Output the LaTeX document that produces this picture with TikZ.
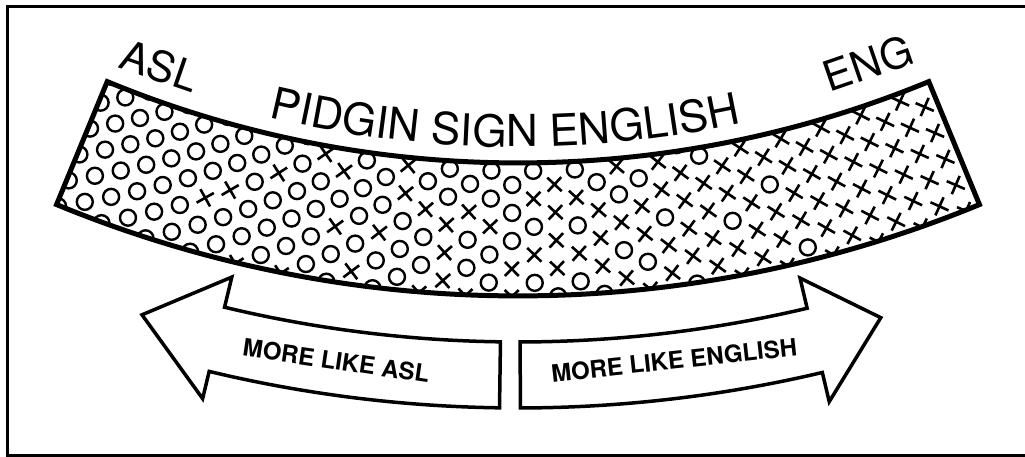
\documentclass[tikz,border=0pt]{standalone}
\usepackage{fontspec}
\setmainfont{TeX Gyre Heros}
\usetikzlibrary{decorations.text}
\newcommand{\bandfont}{\fontsize{44}{50}\selectfont}
\newcommand{\cornerfont}{\fontsize{42}{48}\selectfont}
\newcommand{\arrowfont}{\fontsize{24}{28}\selectfont\bfseries}

\begin{document}
\begin{tikzpicture}[x=1pt, y=1pt,
    omark/.style={line width=2.4pt},
    xmark/.style={line width=2.6pt},
    outline/.style={line width=5pt, line join=miter},
    arrowline/.style={line width=3.5pt, line join=miter}]
    \useasboundingbox (0,0) rectangle (1025,-457);
    % frame, its right side runs off the page
    \draw[line width=3pt] (1025,-6.5) -- (7.5,-6.5) -- (7.5,-455) -- (1025,-455);

    \coordinate (C) at (518,915);

    \begin{scope}[shift={(C)}]
    % the band: circles on the ASL side, crosses on the English side
    \begin{scope}
    \clip (247.6:1078) arc[start angle=247.6,end angle=292.4,radius=1078]
        -- (292.4:1211) arc[start angle=292.4,end angle=247.6,radius=1211] -- cycle;
    \pgfmathsetseed{17}
    \foreach \c in {0,...,42} {
        \foreach \k in {0,...,5} {
            \pgfmathsetmacro\ang{246.6+1.1*\c}
            \pgfmathsetmacro\rad{1086+28*\k-14*mod(\c,2)}
            \pgfmathsetmacro\pp{(\ang-252)/34}
            \pgfmathtruncatemacro\isx{rnd<\pp ? 1 : 0}
            \ifnum\isx=1
                \draw[xmark, shift={(\ang:\rad)}, rotate=\ang]
                    (-7,-7) -- (7,7) (-7,7) -- (7,-7);
            \else
                \draw[omark] (\ang:\rad) circle (8);
            \fi
        }
    }
    \end{scope}
    \draw[outline] (247.6:1078) arc[start angle=247.6,end angle=292.4,radius=1078]
        -- (292.4:1211) arc[start angle=292.4,end angle=247.6,radius=1211] -- cycle;

    % title follows the top of the band
    \path[decorate, decoration={text along path, text align=center,
        text={|\bandfont|PIDGIN SIGN ENGLISH}}]
        (249.3:1062) arc[start angle=249.3,end angle=289.3,radius=1062];

    % the two bent arrows
    \draw[arrowline] (253:1286) -- (256.5:1226) -- (256.5:1257)
        arc[start angle=256.5,end angle=269.2,radius=1257]
        -- (269.2:1323)
        arc[start angle=269.2,end angle=256.5,radius=1323]
        -- (256.5:1351) -- cycle;
    \draw[arrowline] (286.4:1285) -- (283.3:1226) -- (283.3:1257)
        arc[start angle=283.3,end angle=270.1,radius=1257]
        -- (270.1:1323)
        arc[start angle=270.1,end angle=283.3,radius=1323]
        -- (283.3:1353) -- cycle;
    \end{scope}

    \node[anchor=base, rotate=-19, inner sep=0pt] (asl) at (155,-80) {\cornerfont ASL};
    \node[anchor=base, rotate=19, inner sep=0pt] (eng) at (873,-78) {\cornerfont ENG};
    \node[anchor=base, rotate=-8.3, inner sep=0pt] (toasl) at (335,-369.5) {\arrowfont MORE LIKE ASL};
    \node[anchor=base, rotate=6.2, inner sep=0pt] (toeng) at (675,-369) {\arrowfont MORE LIKE ENGLISH};
\end{tikzpicture}
\end{document}
